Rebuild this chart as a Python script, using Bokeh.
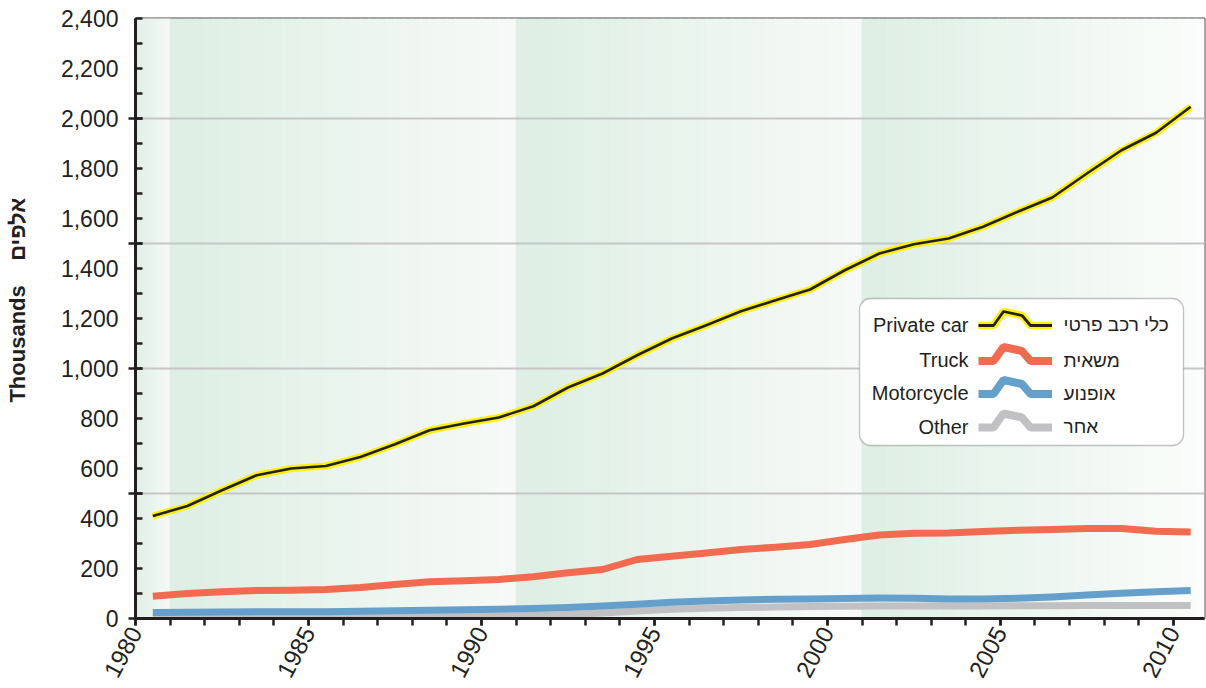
import numpy as np
from bokeh.plotting import figure
from bokeh.models import (Range1d, LinearAxis, FixedTicker, NumeralTickFormatter,
                          BoxAnnotation, Grid)
from bokeh.core.properties import value
from bokeh.embed import file_html
from bokeh.resources import INLINE

# ---------------- data (thousands of vehicles, mid-year) ----------------
years = list(range(1980, 2011))
private_car = [410, 450, 513, 573, 600, 610, 646, 697, 753, 780, 804, 849, 924, 980,
               1053, 1120, 1173, 1229, 1273, 1316, 1393, 1460, 1497, 1520, 1567,
               1627, 1684, 1780, 1873, 1943, 2047]
truck = [89, 100, 107, 112, 113, 116, 124, 136, 147, 151, 156, 167, 183, 196, 236,
         249, 262, 276, 285, 296, 316, 334, 341, 342, 348, 353, 356, 360, 360, 349, 346]
motorcycle = [24, 25, 26, 27, 27, 27, 29, 31, 33, 35, 37, 40, 44, 50, 57, 65, 70, 74,
              77, 78, 80, 82, 81, 78, 78, 81, 86, 94, 101, 107, 112]
other = [3, 3, 3, 4, 4, 5, 5, 6, 7, 8, 10, 12, 16, 22, 30, 37, 41, 44, 46, 48, 49,
         50, 50, 50, 50, 51, 51, 52, 52, 52, 52]

x_label_ticks = [1980, 1985, 1990, 1995, 2000, 2005, 2010]
y_label_ticks = list(range(0, 2401, 200))
y_minor_ticks = list(range(0, 2401, 100))
y_grid_ticks = [500, 1000, 1500, 2000]
band_starts = [1980, 1981, 1991, 2001]
band_ends = [1981, 1991, 2001, 2010.9]

legend_en = ["Private car", "Truck", "Motorcycle", "Other"]
legend_he = ["כלי רכב פרטי", "משאית", "אופנוע", "אחר"]
y_title = "\u00a0" * 6 + "Thousands" + "\u00a0" * 4 + "אלפים"

# ---------------- styling ----------------
INK = "#231f20"
CAR_YELLOW = "#fff200"
TRUCK_C = "#f26a4f"
MOTO_C = "#64a0cb"
OTHER_C = "#c1c1c3"
TICK_FONT = "'Liberation Sans', Arial, sans-serif"
TEXT_FONT = "'Liberation Sans', Arial, sans-serif"

X_MIN, X_MAX = 1980, 2010.9
Y_MIN, Y_MAX = 0, 2400
W, H = 1206, 688
# frame geometry in page pixels (used only to place the legend)
FL, FR, FT, FB = 135, 1204, 18, 618


def px_x(px):
    return X_MIN + (px - FL) * (X_MAX - X_MIN) / (FR - FL)


def px_y(py):
    return Y_MIN + (FB - py) * (Y_MAX - Y_MIN) / (FB - FT)


p = figure(width=W, height=H, x_range=Range1d(X_MIN, X_MAX),
           y_range=Range1d(Y_MIN, Y_MAX), output_backend="svg",
           toolbar_location=None, title=None, x_axis_type=None, y_axis_type=None,
           min_border_left=FL, min_border_right=W - FR, min_border_top=FT,
           min_border_bottom=H - FB, background_fill_color="white",
           border_fill_color="white", outline_line_color="#4a4a4a",
           outline_line_width=2)

# ---------------- background gradient bands ----------------
n = 40
lefts, rights, cols = [], [], []
c0 = np.array([222, 239, 229])
for s, e in zip(band_starts, band_ends):
    c1 = np.array([252, 253, 252]) if e == band_ends[-1] else np.array([247, 250, 248])
    for k in range(n):
        lefts.append(s + (e - s) * k / n)
        rights.append(s + (e - s) * (k + 1) / n)
        t = (k + 0.5) / n
        c = (c0 + (c1 - c0) * t).astype(int)
        cols.append("#%02x%02x%02x" % tuple(c))
bg = p.quad(left=lefts, right=rights, bottom=Y_MIN, top=Y_MAX, fill_color=cols,
            line_color=cols, line_width=0.8)
bg.level = "image"

# ---------------- grid ----------------
p.add_layout(Grid(dimension=1, ticker=FixedTicker(ticks=y_grid_ticks),
                  grid_line_color="#c6c6c6", grid_line_width=2))

# ---------------- series ----------------
xs = [y + 0.5 for y in years]
p.line(xs, other, line_color=OTHER_C, line_width=7, line_join="round")
p.line(xs, motorcycle, line_color=MOTO_C, line_width=7, line_join="round")
p.line(xs, truck, line_color=TRUCK_C, line_width=7, line_join="round")
p.line(xs, private_car, line_color=CAR_YELLOW, line_width=7, line_join="round")
p.line(xs, private_car, line_color=INK, line_width=2.6, line_join="round")

# ---------------- axes ----------------
xa = LinearAxis(ticker=FixedTicker(ticks=x_label_ticks, minor_ticks=years),
                major_tick_in=0, major_tick_out=7, minor_tick_in=0, minor_tick_out=7,
                axis_line_width=3, axis_line_color=INK,
                major_tick_line_color=INK, minor_tick_line_color=INK,
                major_tick_line_width=2.5, minor_tick_line_width=2.5,
                major_label_orientation=1.08, major_label_standoff=3,
                major_label_text_font=TICK_FONT, major_label_text_font_size="24px",
                major_label_text_color=INK)
p.add_layout(xa, "below")

ya = LinearAxis(ticker=FixedTicker(ticks=[0] + y_grid_ticks,
                                   minor_ticks=y_minor_ticks),
                major_tick_in=7, major_tick_out=7, minor_tick_in=7, minor_tick_out=0,
                axis_line_width=3, axis_line_color=INK,
                major_tick_line_color=INK, minor_tick_line_color=INK,
                major_tick_line_width=2.5, minor_tick_line_width=2.5,
                major_label_overrides={t: "" for t in [0] + y_grid_ticks},
                major_label_standoff=0, major_label_text_font_size="1px")
p.add_layout(ya, "left")

yb = LinearAxis(ticker=FixedTicker(ticks=y_label_ticks),
                formatter=NumeralTickFormatter(format="0,0"),
                axis_line_color=None, major_tick_line_color=None,
                minor_tick_line_color=None, major_tick_in=0, major_tick_out=0,
                minor_tick_in=0, minor_tick_out=0, major_label_standoff=10,
                major_label_text_font=TICK_FONT, major_label_text_font_size="23px",
                major_label_text_color=INK,
                axis_label=y_title, axis_label_standoff=28,
                axis_label_text_font=TEXT_FONT, axis_label_text_font_style="bold",
                axis_label_text_font_size="22px", axis_label_text_color=INK)
p.add_layout(yb, "left")

# ---------------- legend ----------------
p.add_layout(BoxAnnotation(left=px_x(859), right=px_x(1183), top=px_y(298),
                           bottom=px_y(445), border_radius=11, fill_color="white",
                           fill_alpha=1, line_color="#3a3a3a", line_width=1.3))

row_y = [325, 360.5, 393.5, 427]
bump = [(0, 0), (15, 0), (25, -14), (43.5, -10), (52, 0), (73.5, 0)]
sx0 = 978
for i, ry in enumerate(row_y):
    bx = [px_x(sx0 + dx) for dx, dy in bump]
    by = [px_y(ry + dy) for dx, dy in bump]
    if i == 0:
        r1 = p.line(bx, by, line_color=CAR_YELLOW, line_width=7.5)
        r2 = p.line(bx, by, line_color=INK, line_width=2.8)
        r1.level = "overlay"
        r2.level = "overlay"
    else:
        c = [TRUCK_C, MOTO_C, OTHER_C][i - 1]
        r = p.line(bx, by, line_color=c, line_width=8)
        r.level = "overlay"

t1 = p.text(x=[px_x(968)] * 4, y=[px_y(ry - 1) for ry in row_y], text=legend_en,
            text_align="right", text_baseline="middle", text_font=value(TEXT_FONT),
            text_font_size="20px", text_color=INK)
t1.level = "overlay"
t2 = p.text(x=[px_x(1063)] * 4, y=[px_y(ry - 1) for ry in row_y], text=legend_he,
            text_align="left", text_baseline="middle", text_font=value(TEXT_FONT),
            text_font_size="19px", text_color=INK)
t2.level = "overlay"

open("out.html", "w").write(file_html(p, INLINE))
